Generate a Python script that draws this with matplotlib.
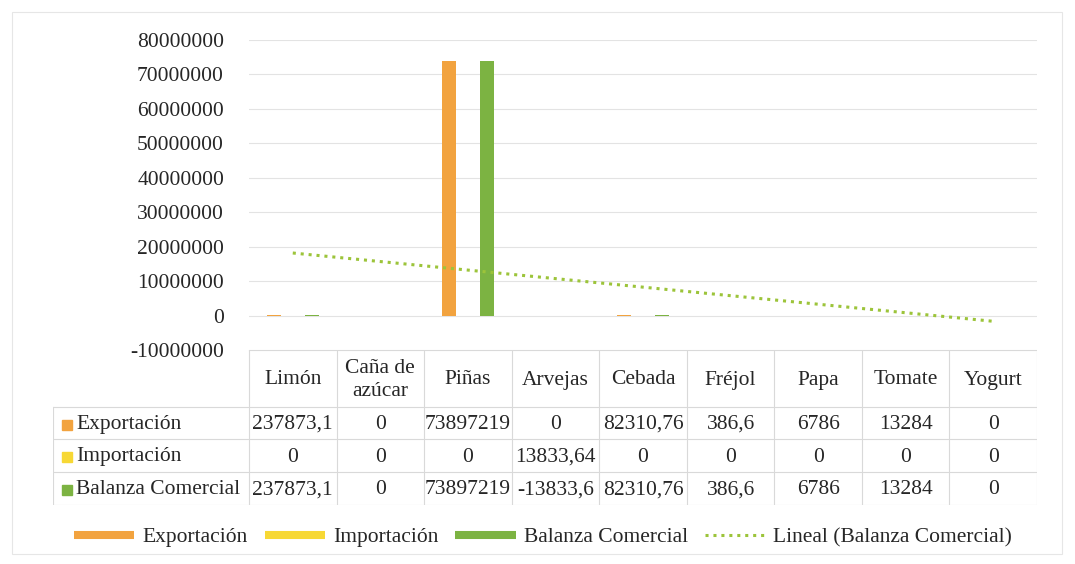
import matplotlib.pyplot as plt
from matplotlib.lines import Line2D
from matplotlib.patches import Rectangle
import numpy as np

categories = ["Limón", "Caña de\nazúcar", "Piñas", "Arvejas", "Cebada", "Fréjol", "Papa", "Tomate", "Yogurt"]
exportacion = [237873.1, 0, 73897219, 0, 82310.76, 386.6, 6786, 13284, 0]
importacion = [0, 0, 0, 13833.64, 0, 0, 0, 0, 0]
balanza = [237873.1, 0, 73897219, -13833.6, 82310.76, 386.6, 6786, 13284, 0]
exp_txt = ["237873,1", "0", "73897219", "0", "82310,76", "386,6", "6786", "13284", "0"]
imp_txt = ["0", "0", "0", "13833,64", "0", "0", "0", "0", "0"]
bal_txt = ["237873,1", "0", "73897219", "-13833,6", "82310,76", "386,6", "6786", "13284", "0"]
series_names = ["Exportación", "Importación", "Balanza Comercial"]
colors = ["#F2A33F", "#F7D835", "#7CB342"]
trend_color = "#9CC43A"

plt.rcParams['font.family'] = ['Liberation Serif', 'DejaVu Serif']
FS = 15.5
TC = "#262626"
W, H = 1075, 564
fig = plt.figure(figsize=(W / 100, H / 100), dpi=100)

# outer chart border
fig.patches.append(Rectangle((12 / W, 10 / H), (1062 - 12) / W, (552 - 10) / H,
                             transform=fig.transFigure, fill=False, ec="#e6e6e6", lw=0.8))

left, right, top, bottom = 249, 1037, 40, 350
ax = fig.add_axes([left / W, 1 - bottom / H, (right - left) / W, (bottom - top) / H])
x = np.arange(len(categories))
bw, off = 0.16, 0.217
for i, (vals, c) in enumerate(zip([exportacion, importacion, balanza], colors)):
    ax.bar(x + (i - 1) * off, vals, width=bw, color=c, zorder=3)

# linear trendline for Balanza Comercial
k, b = np.polyfit(x + 1, balanza, 1)
ax.plot(x, k * (x + 1) + b, color=trend_color, ls=(0, (1, 1.6)), lw=2.2, zorder=4)

ax.set_xlim(-0.5, len(categories) - 0.5)
ax.set_ylim(-10000000, 80000000)
ax.set_yticks(np.arange(-10000000, 80000001, 10000000))
ax.set_yticklabels([str(v) for v in range(-10000000, 80000001, 10000000)], fontsize=FS, color=TC)
ax.tick_params(axis='y', length=0, pad=18)
ax.set_xticks([])
for s in ax.spines.values():
    s.set_visible(False)
ax.yaxis.grid(True, color="#e3e3e3", lw=0.8, zorder=0)
ax.set_axisbelow(True)

# data table
tl = 53
colw = (right - left) / len(categories)
tax = fig.add_axes([tl / W, 1 - 505 / H, (right - tl) / W, (505 - 350) / H])
tax.set_xlim(tl, right)
tax.set_ylim(505, 350)
tax.axis('off')
lc = "#d9d9d9"
rows_y = [350, 407, 439, 472, 505]
tax.plot([left, right], [350, 350], color=lc, lw=0.8)
for i in range(len(categories) + 1):
    xe = left + i * colw
    tax.plot([xe, xe], [350, 505], color=lc, lw=0.8)
for yy in rows_y[1:]:
    tax.plot([tl, right], [yy, yy], color=lc, lw=0.8)
tax.plot([tl, tl], [407, 505], color=lc, lw=0.8)

for i, cat in enumerate(categories):
    tax.text(left + (i + 0.5) * colw, 380, cat, ha='center', va='center', fontsize=FS,
             color=TC, linespacing=1.25)
for r, (name, txts, c) in enumerate(zip(series_names, [exp_txt, imp_txt, bal_txt], colors)):
    yc = (rows_y[r + 1] + rows_y[r + 2]) / 2 + 1.5
    tax.add_patch(Rectangle((62, yc - 5), 10, 10, color=c))
    tax.text(76, yc, name, ha='left', va='center', fontsize=FS, color=TC)
    for i, t in enumerate(txts):
        tax.text(left + (i + 0.5) * colw, yc, t, ha='center', va='center', fontsize=FS, color=TC)

handles = [Line2D([], [], color=c, lw=5.8, solid_capstyle='butt') for c in colors]
handles.append(Line2D([], [], color=trend_color, ls=(0, (1, 1.6)), lw=2.2))
labels = series_names + ["Lineal (Balanza Comercial)"]
fig.legend(handles, labels, loc='center', bbox_to_anchor=(543 / W, 1 - 537 / H), ncol=4,
           frameon=False, fontsize=FS, handlelength=2.8, handletextpad=0.37, columnspacing=0.8,
           labelcolor=TC)

fig.savefig("out.png", dpi=100, facecolor="white")
